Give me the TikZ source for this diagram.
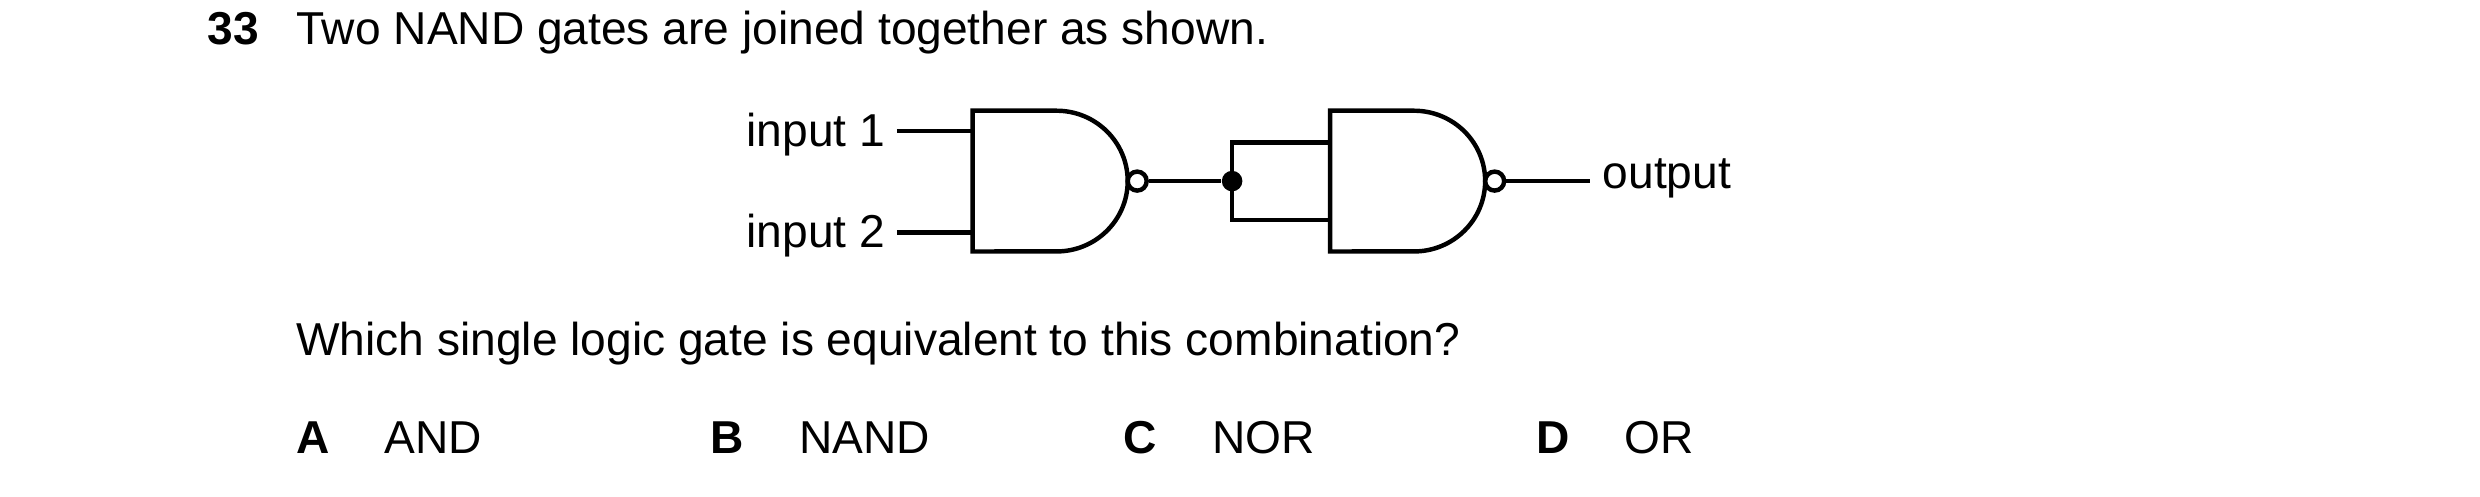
\documentclass[tikz,border=0pt]{standalone}
\usepackage{fontspec}
\setmainfont{Liberation Sans}
\usetikzlibrary{positioning}
\begin{document}
\begin{tikzpicture}[x=0.02cm, y=-0.02cm,
  txt/.style = {inner sep=0pt, font=\fontsize{16.6}{19}\selectfont},
  wire/.style = {line width=1.6pt},
  bub/.style = {circle, draw, line width=1.6pt, fill=white, inner sep=0pt, minimum size=0.24cm},
  ]
  \useasboundingbox (0,0) rectangle (1568,314);
  % question text
  \node (num) [txt, anchor=base west, font=\fontsize{16.6}{19}\selectfont\bfseries] at (131,28) {33};
  \node (q) [txt, anchor=base west] at (187,28) {Two NAND gates are joined together as shown.};
  % gate 1
  \draw [wire] (615,70) -- (668,70)
    arc [start angle=90, end angle=-90, x radius=0.9cm, y radius=0.89cm]
    -- (615,159) -- cycle;
  \node (b1) [bub] at (719,114.5) {};
  % gate 2
  \draw [wire] (841,70) -- (894,70)
    arc [start angle=90, end angle=-90, x radius=0.9cm, y radius=0.89cm]
    -- (841,159) -- cycle;
  \node (b2) [bub] at (945,114.5) {};
  % inputs
  \coordinate (i1) at (615,83);
  \coordinate (i2) at (615,147);
  \node (in1) [txt, anchor=east] at (560,85) {input 1};
  \node (in2) [txt, anchor=east] at (560,149) {input 2};
  \draw [wire] (567,83) -- (i1);
  \draw [wire] (567,147) -- (i2);
  % junction
  \node (dot) [circle, fill, inner sep=0pt, minimum size=0.26cm] at (779,114.5) {};
  \draw [wire] (b1) -- (dot);
  \draw [wire] (841,90) -| (dot.center) |- (841,139);
  % output
  \node (out) [txt, anchor=west] at (1013,113) {output};
  \draw [wire] (b2) -- (1005,114.5);
  % question
  \node (w) [txt, anchor=base west] at (187,225) {Which single logic gate is equivalent to this combination?};
  \foreach \l/\t/\x in {A/AND/187, B/NAND/449, C/NOR/710, D/OR/971} {
    \node (opt\l) [txt, anchor=base west, font=\fontsize{16.6}{19}\selectfont\bfseries] at (\x,287) {\l};
    \node (ans\l) [txt, anchor=base west] at (\x+56,287) {\t};
  }
\end{tikzpicture}
\end{document}
